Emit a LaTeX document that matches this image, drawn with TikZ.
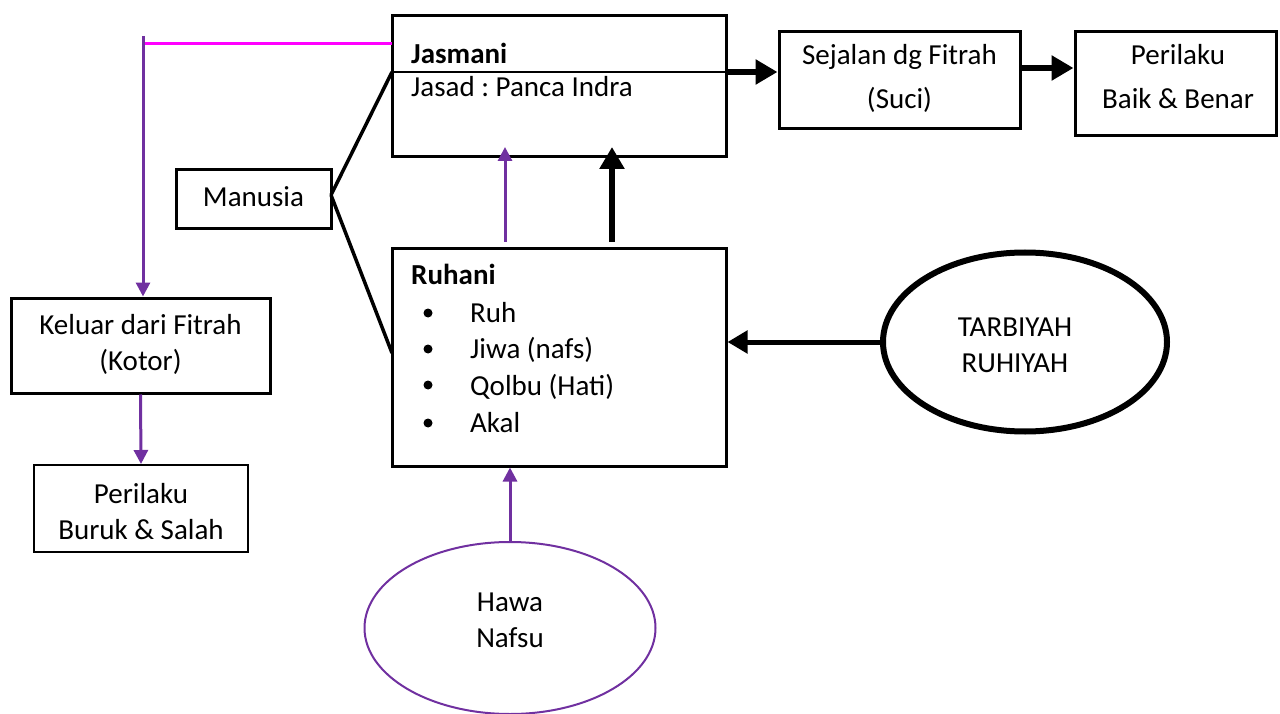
\documentclass[tikz,border=0pt]{standalone}
\usepackage{fontspec}
\setmainfont{Carlito}
\usetikzlibrary{arrows.meta,shapes.geometric}
\definecolor{pur}{HTML}{7030A0}
\definecolor{mag}{HTML}{FF00FF}
\frenchspacing
\begin{document}
\begin{tikzpicture}[x=1pt,y=-1pt,
  box/.style={draw,line width=3pt,rectangle,inner sep=0pt,align=center,font=\fontsize{29}{36}\selectfont},
  txt/.style={inner sep=0pt,align=center,font=\fontsize{29}{36}\selectfont},
  thickarr/.style={line width=6pt,-{Triangle[length=22pt,width=24pt]}},
  medarr/.style={line width=5pt,-{Triangle[length=20pt,width=22pt]}},
  purarr/.style={pur,line width=3pt,-{Triangle[length=14pt,width=14pt]}},
  link/.style={line width=3.5pt}]
\useasboundingbox (0,0) rectangle (1280,714);
% boxes
\node[box,minimum width=334pt,minimum height=141pt] (jas) at (559,86.5) {};
\node[box,minimum width=334pt,minimum height=217pt] (ruh) at (559,357.5) {};
\node[box,minimum width=155pt,minimum height=59pt] (man) at (253.5,199.5) {};
\node[txt] (mant) at (253.5,197) {Manusia};
\node[box,minimum width=259pt,minimum height=95pt] (kel) at (140.5,345.5) {};
\node[txt] (kelt) at (140.5,344) {Keluar dari Fitrah\\(Kotor)};
\node[box,line width=2pt,minimum width=214pt,minimum height=87pt] (bur) at (141,508.5) {};
\node[txt] (burt) at (141,512) {Perilaku\\Buruk \& Salah};
\node[box,minimum width=241pt,minimum height=97pt] (sej) at (899.5,80.5) {};
\node[txt,font=\fontsize{29}{44}\selectfont] (sejt) at (899.5,78.5) {Sejalan dg Fitrah\\(Suci)};
\node[box,minimum width=201pt,minimum height=104pt] (bai) at (1175.5,84) {};
\node[txt,font=\fontsize{29}{44}\selectfont] (bait) at (1178,77) {Perilaku\\Baik \& Benar};
\node[ellipse,draw,line width=6pt,minimum width=284pt,minimum height=179pt,inner sep=0pt] (tar) at (1025,342) {};
\node[txt] (tart) at (1015,345) {TARBIYAH\\RUHIYAH};
\node[ellipse,draw=pur,line width=2pt,minimum width=291pt,minimum height=172pt,inner sep=0pt] (haw) at (510,628) {};
\node[txt] (hawt) at (510,620) {Hawa\\Nafsu};
% texts in Jasmani
\node[txt,anchor=base west,font=\fontsize{29}{36}\selectfont\bfseries] (jt) at (411,64) {Jasmani};
\node[txt,anchor=base west] (jd) at (411,97) {Jasad : Panca Indra};
% texts in Ruhani
\node[txt,anchor=base west,font=\fontsize{29}{36}\selectfont\bfseries] (rt) at (411,284) {Ruhani};
\foreach \y/\c/\t [count=\i] in {322/313/Ruh,358/349/Jiwa (nafs),395/385/Qolbu (Hati),432/423/Akal}{
  \node[circle,fill,inner sep=0pt,minimum size=9pt] (b\i) at (428,\c) {};
  \node[txt,anchor=base west] (r\i) at (470,\y) {\t};
}
% coordinates
\coordinate (jL) at (392,72);
\coordinate (jR) at (726,72);
\coordinate (mE) at (331,195);
\coordinate (rL) at (392,353);
\coordinate (magL) at (143,44);
\coordinate (magR) at (392,44);
\coordinate (pTop) at (143,36);
\coordinate (sR) at (1020,68);
\coordinate (pa1) at (505,242);
\coordinate (pa2) at (505,147);
\coordinate (ka1) at (612,242);
\coordinate (ka2) at (612,147);
% connectors
\draw[line width=2.5pt] (jL) -- (jR);
\draw[thickarr] (jR) -- (jR -| sej.west);
\draw[thickarr] (sR) -- (sR -| bai.west);
\draw[link] (mE) -- (jL);
\draw[link] (mE) -- (rL);
\draw[mag,line width=3pt] (magR) -- (magL);
\draw[purarr] (pTop) -- (pTop |- kel.north);
\draw[purarr] (kel.south) -- (bur.north);
\draw[purarr] (pa1) -- (pa2);
\draw[thickarr] (ka1) -- (ka2);
\draw[medarr] (tar.west) -- (tar.west -| ruh.east);
\draw[purarr] (haw.north) -- (haw.north |- ruh.south);
\end{tikzpicture}
\end{document}
